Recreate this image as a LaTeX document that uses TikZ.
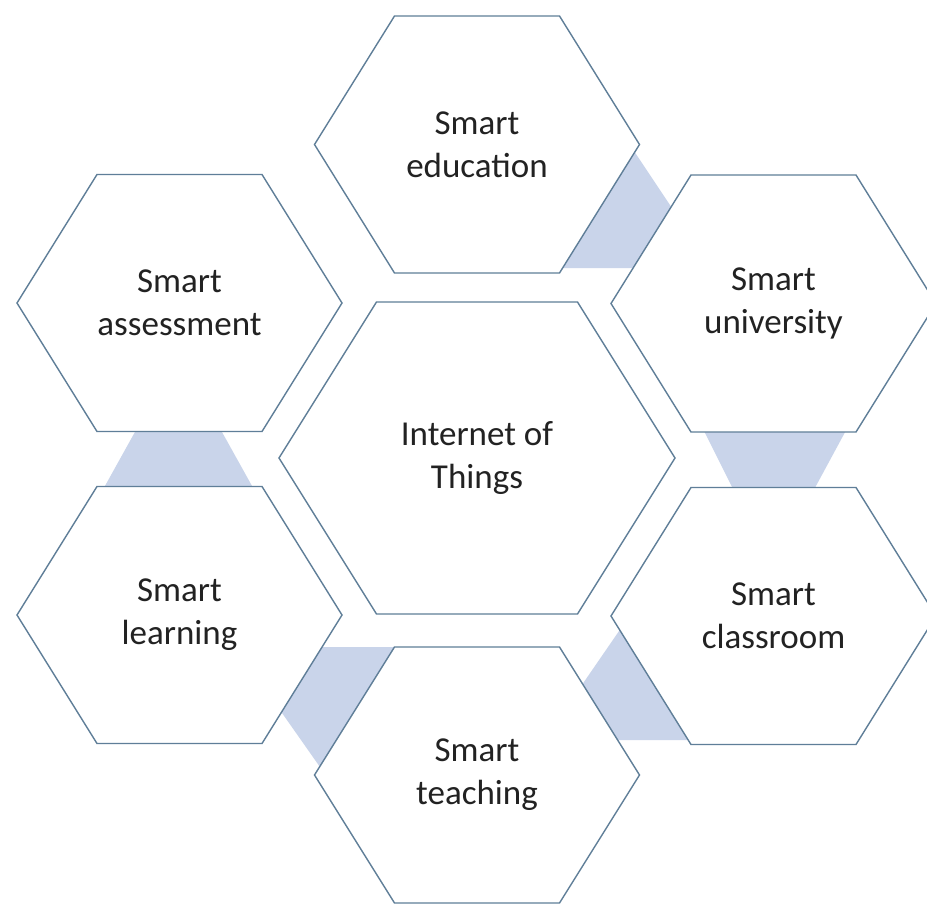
\documentclass[tikz,border=0pt]{standalone}
\usepackage{fontspec}
\setmainfont{Carlito}
\usetikzlibrary{calc}
\definecolor{hexline}{HTML}{5F7E98}
\definecolor{linkfill}{HTML}{C9D4EA}
\definecolor{txt}{HTML}{222222}
\tikzset{
  hexshape/.style={draw=hexline, line width=1.4pt, fill=white, line join=miter},
  linkshape/.style={fill=linkfill, draw=none},
  hexlabel/.style={align=center, text=txt, font=\fontsize{35}{43}\selectfont, inner sep=0pt},
}
% #1 centre, #2 half width, #3 half top edge, #4 half height
\newcommand{\hexpath}[4]{%
  \draw[hexshape, shift={(#1)}] (-#2,0) -- (-#3,-#4) -- (#3,-#4) -- (#2,0) -- (#3,#4) -- (-#3,#4) -- cycle;}
\begin{document}
\begin{tikzpicture}[x=1pt, y=-1pt]
\useasboundingbox (0,0) rectangle (927,903);
\clip (0,0) rectangle (927,903);
\fill[white] (0,0) rectangle (927,903);

% centres
\coordinate (cCen) at (477,458);
\coordinate (cEdu) at (477,144.5);
\coordinate (cUni) at (773.5,303.5);
\coordinate (cCla) at (773.5,616);
\coordinate (cTea) at (477,775);
\coordinate (cLea) at (179.5,615);
\coordinate (cAss) at (179.5,303);

% connectors (drawn behind the hexagons)
\fill[linkshape] (630,145) -- (675.3,213) -- (640,268) -- (555,268) -- cycle;        % education -> university
\fill[linkshape] (700,423) -- (850,423) -- (810,497) -- (737,497) -- cycle;          % university -> classroom
\fill[linkshape] (628,618) -- (575,695) -- (612,740) -- (695,740) -- cycle;          % classroom -> teaching
\fill[linkshape] (315,647) -- (398,647) -- (400,660) -- (327,777) -- (275,703) -- cycle; % teaching -> learning
\fill[linkshape] (99.4,496) -- (257.6,496) -- (216.4,422) -- (140.5,422) -- cycle;   % learning -> assessment

% hexagons
\hexpath{cCen}{198}{100.5}{156}
\hexpath{cEdu}{162.5}{82.5}{128.5}
\hexpath{cUni}{162.5}{82.5}{128.5}
\hexpath{cCla}{162.5}{82.5}{128.5}
\hexpath{cTea}{162.5}{82.5}{128}
\hexpath{cLea}{162.5}{82.5}{128.5}
\hexpath{cAss}{162.5}{82.5}{128.5}

% labels
\node[hexlabel] (iot) at (cCen) {Internet of\\Things};
\node[hexlabel] (edu) at (cEdu) {Smart\\education};
\node[hexlabel] (uni) at (cUni) {Smart\\university};
\node[hexlabel] (cla) at (cCla) {Smart\\classroom};
\node[hexlabel] (tea) at (cTea) {Smart\\teaching};
\node[hexlabel] (lea) at (cLea) {Smart\\learning};
\node[hexlabel] (ass) at (cAss) {Smart\\assessment};
\end{tikzpicture}
\end{document}
